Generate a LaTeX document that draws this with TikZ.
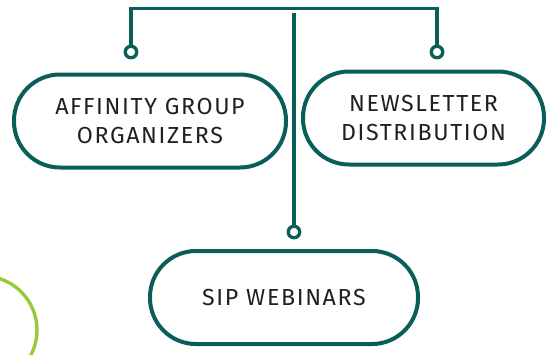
\documentclass[tikz,border=0pt]{standalone}
\usepackage{fontspec}
\setmainfont{Fira Sans}[LetterSpace=7]
\usetikzlibrary{positioning}
\definecolor{teal}{RGB}{10,94,90}
\definecolor{lime}{RGB}{150,204,60}
\definecolor{ink}{RGB}{35,31,32}
\begin{document}
\begin{tikzpicture}[x=1bp,y=-1bp,
  pill/.style={draw=teal, line width=4bp, rounded corners=46bp, inner sep=0pt,
    minimum height=93bp, align=center, text=ink,
    font=\fontsize{23.3}{30}\selectfont},
  dot/.style={circle, draw=teal, line width=3.3bp, fill=white, minimum size=11.5bp, inner sep=0pt},
  link/.style={draw=teal, line width=3.5bp}]
\useasboundingbox (0,0) rectangle (549,354);
\begin{scope}
\clip (0,0) rectangle (549,354);
\draw[lime, line width=3.4bp] (-17,330) circle (54);
\end{scope}
\node[pill, minimum width=272bp] (aff) at (150,121) {AFFINITY GROUP\\ORGANIZERS};
\node[pill, minimum width=241bp] (news) at (423.5,118) {NEWSLETTER\\DISTRIBUTION};
\node[pill, minimum width=268bp] (sip) at (284,297.5) {SIP WEBINARS};
\node[dot] (d1) at (131,52) {};
\node[dot] (d2) at (437,52) {};
\node[dot] (d3) at (294,232) {};
\coordinate (tr) at (437,8.7);
\coordinate (ct) at (294,13);
\draw[link] (d1.north) |- (tr) -- (d2.north);
\draw[link] (ct) -- (d3.north);
\end{tikzpicture}
\end{document}
